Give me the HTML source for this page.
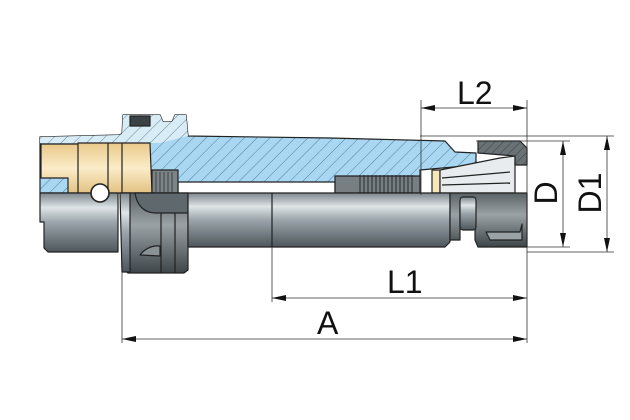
<!DOCTYPE html>
<html><head><meta charset="utf-8"><style>html,body{margin:0;padding:0;background:#fff}svg{display:block}</style></head>
<body>
<svg width="630" height="420" viewBox="0 0 630 420" xmlns="http://www.w3.org/2000/svg" font-family="Liberation Sans, sans-serif">
<defs>
<pattern id="h" width="9" height="9" patternUnits="userSpaceOnUse" patternTransform="rotate(45)">
<rect width="9" height="9" fill="#a9d6f0"/><line x1="0" y1="0" x2="0" y2="9" stroke="#3a6a8a" stroke-width="0.8"/></pattern>
<pattern id="hl" width="9" height="9" patternUnits="userSpaceOnUse" patternTransform="rotate(45)">
<rect width="9" height="9" fill="#d8ecf6"/><line x1="0" y1="0" x2="0" y2="9" stroke="#4a6a80" stroke-width="0.8"/></pattern>
<pattern id="hg" width="6" height="6" patternUnits="userSpaceOnUse" patternTransform="rotate(45)">
<rect width="6" height="6" fill="#6a7276"/><line x1="0" y1="0" x2="0" y2="6" stroke="#2a3034" stroke-width="0.8"/></pattern>
<linearGradient id="g" x1="0" y1="0" x2="0" y2="1">
<stop offset="0" stop-color="#7d878d"/><stop offset="0.25" stop-color="#dfe4e7"/><stop offset="0.5" stop-color="#9aa4aa"/><stop offset="1" stop-color="#4d565b"/></linearGradient>
<linearGradient id="gd" x1="0" y1="0" x2="0" y2="1">
<stop offset="0" stop-color="#5a6266"/><stop offset="0.4" stop-color="#9aa2a6"/><stop offset="1" stop-color="#3e4548"/></linearGradient>
<linearGradient id="gold" x1="0" y1="0" x2="0" y2="1">
<stop offset="0" stop-color="#e9c98a"/><stop offset="0.5" stop-color="#fbecc8"/><stop offset="1" stop-color="#e3c283"/></linearGradient>
</defs>
<g stroke="#222" stroke-width="1.2" stroke-linejoin="round">
<path d="M40 137 L118 135 L122 134 L123 115 L160 115 L163 122 L172 122 L175 115 L186 115 L188 136 L330 138 L445 141 L455 152 L476 153 L476 165 L420 170 L420 193 L335 193 L335 182 L178 182 L178 193 L40 193 Z" fill="url(#h)"/>
<path d="M40 137 L118 135 L122 134 L123 115 L160 115 L163 122 L172 122 L175 115 L186 115 L188 136 L160 143 L40 143 Z" fill="url(#hl)" stroke="none"/>
<rect x="130" y="116" width="20" height="10" fill="#3a4246"/>
<path d="M41 144 L80 144 L80 193 L68 193 L68 178 L41 178 Z" fill="url(#gold)"/>
<path d="M78 143 L150 143 L152 193 L78 193 Z" fill="url(#gold)"/>
<line x1="108" y1="143" x2="108" y2="193"/><line x1="122" y1="143" x2="122" y2="193"/>
<rect x="152" y="170" width="26" height="23" fill="#7c8488"/>
<g stroke="#333" stroke-width="0.8"><line x1="156" y1="172" x2="156" y2="192"/><line x1="160" y1="172" x2="160" y2="192"/><line x1="164" y1="172" x2="164" y2="192"/><line x1="168" y1="172" x2="168" y2="192"/><line x1="172" y1="172" x2="172" y2="192"/></g>
<rect x="335" y="176" width="85" height="17" fill="#777f83"/>
<g stroke="#222" stroke-width="0.9"><line x1="360" y1="175" x2="360" y2="193"/><line x1="364" y1="175" x2="364" y2="193"/><line x1="368" y1="175" x2="368" y2="193"/><line x1="372" y1="175" x2="372" y2="193"/><line x1="376" y1="175" x2="376" y2="193"/><line x1="380" y1="175" x2="380" y2="193"/><line x1="384" y1="175" x2="384" y2="193"/><line x1="388" y1="175" x2="388" y2="193"/><line x1="392" y1="175" x2="392" y2="193"/><line x1="396" y1="175" x2="396" y2="193"/><line x1="400" y1="175" x2="400" y2="193"/><line x1="404" y1="175" x2="404" y2="193"/><line x1="408" y1="175" x2="408" y2="193"/><line x1="412" y1="175" x2="412" y2="193"/></g>
<rect x="432" y="170" width="8" height="23" fill="#f7e6b8"/>
<path d="M440 170 L500 158 L515 156 L515 193 L440 193 Z" fill="#e8ecee"/>
<line x1="442" y1="178" x2="510" y2="172"/><line x1="442" y1="185" x2="510" y2="183"/>
<path d="M478 141 L520 141 L527 148 L527 165 L515 165 L515 156 L478 153 Z" fill="url(#hg)"/>
<path d="M40 193 L118 193 L118 252 L48 252 L44 248 L44 222 L40 222 Z" fill="url(#g)"/>
<path d="M122 193 L188 193 L188 270 L184 273 L128 273 L122 268 Z" fill="url(#gd)"/>
<path d="M120 193 L130 193 L130 272 L122 272 Z" fill="url(#g)"/>
<path d="M135 193 Q138 212 155 213 L188 213 L188 193 Z" fill="#5f686c"/>
<line x1="161" y1="213" x2="161" y2="273"/><line x1="175" y1="213" x2="175" y2="273"/>
<path d="M140 255 Q148 245 160 246 L160 256 Z" fill="#8a9296"/>
<path d="M188 193 L450 193 L450 242 L445 247 L188 247 Z" fill="url(#g)"/>
<line x1="272" y1="193" x2="272" y2="247"/>
<path d="M450 193 L527 193 L527 247 L478 247 L475 240 L475 205 L460 205 L460 240 L450 240 Z" fill="url(#gd)"/>
<rect x="460" y="197" width="16" height="33" rx="3" fill="url(#g)"/>
<path d="M486 232 L520 232 L522 224 L522 240 L490 240 Z" fill="#9aa2a6"/>
<circle cx="100" cy="193" r="9" fill="#fff" stroke-width="1.6"/>
</g>
<g stroke="#333" stroke-width="0.8" fill="none">
<line x1="421" y1="100" x2="421" y2="195"/>
<line x1="527" y1="100" x2="527" y2="343"/>
<line x1="421" y1="108" x2="527" y2="108"/>
<line x1="476" y1="141" x2="570" y2="141"/>
<line x1="527" y1="247" x2="570" y2="247"/>
<line x1="420" y1="136" x2="614" y2="136"/>
<line x1="527" y1="252" x2="614" y2="252"/>
<line x1="563" y1="141" x2="563" y2="247"/>
<line x1="607" y1="136" x2="607" y2="252"/>
<line x1="272" y1="247" x2="272" y2="302"/>
<line x1="122" y1="272" x2="122" y2="343"/>
<line x1="272" y1="298" x2="527" y2="298"/>
<line x1="122" y1="339" x2="527" y2="339"/>
</g>
<g fill="#111">
<path d="M421 108 l14 -3 v6 z"/><path d="M527 108 l-14 -3 v6 z"/>
<path d="M563 141 l-3 14 h6 z"/><path d="M563 247 l-3 -14 h6 z"/>
<path d="M607 136 l-3 14 h6 z"/><path d="M607 252 l-3 -14 h6 z"/>
<path d="M272 298 l14 -3 v6 z"/><path d="M527 298 l-14 -3 v6 z"/>
<path d="M122 339 l14 -3 v6 z"/><path d="M527 339 l-14 -3 v6 z"/>
</g>
<g fill="#111" font-size="32">
<text x="457" y="104">L2</text>
<text x="387" y="293">L1</text>
<text x="317" y="334">A</text>
<text transform="translate(557 193) rotate(-90)" text-anchor="middle">D</text>
<text transform="translate(601 193) rotate(-90)" text-anchor="middle">D1</text>
</g>
</svg>
</body></html>
